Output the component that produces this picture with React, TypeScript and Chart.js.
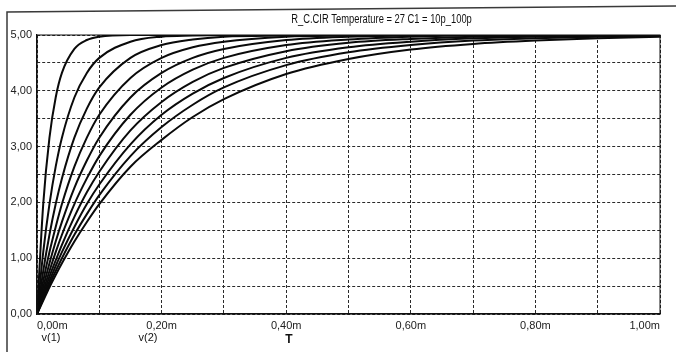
import React, { useEffect, useRef } from "react";
import { Chart, registerables } from "chart.js";

Chart.register(...registerables);

const timeMs = [0, 0.01, 0.02, 0.03, 0.04, 0.06, 0.08, 0.1, 0.15, 0.2, 0.25, 0.3, 0.4, 0.5, 0.6, 0.7, 0.8, 0.9, 1.0];

const vC10p = [0, 1.97, 3.16, 3.88, 4.32, 4.75, 4.91, 4.97, 5.0, 5.0, 5.0, 5.0, 5.0, 5.0, 5.0, 5.0, 5.0, 5.0, 5.0];
const vC20p = [0, 1.11, 1.97, 2.64, 3.16, 3.88, 4.32, 4.59, 4.88, 4.97, 4.99, 5.0, 5.0, 5.0, 5.0, 5.0, 5.0, 5.0, 5.0];
const vC30p = [0, 0.77, 1.42, 1.97, 2.43, 3.16, 3.68, 4.06, 4.59, 4.82, 4.92, 4.97, 4.99, 5.0, 5.0, 5.0, 5.0, 5.0, 5.0];
const vC40p = [0, 0.59, 1.11, 1.56, 1.97, 2.64, 3.16, 3.57, 4.23, 4.59, 4.78, 4.88, 4.97, 4.99, 5.0, 5.0, 5.0, 5.0, 5.0];
const vC50p = [0, 0.48, 0.91, 1.3, 1.65, 2.26, 2.75, 3.16, 3.88, 4.32, 4.59, 4.75, 4.91, 4.97, 4.99, 5.0, 5.0, 5.0, 5.0];
const vC60p = [0, 0.4, 0.77, 1.11, 1.42, 1.97, 2.43, 2.83, 3.57, 4.06, 4.38, 4.59, 4.82, 4.92, 4.97, 4.99, 4.99, 5.0, 5.0];
const vC70p = [0, 0.34, 0.67, 0.96, 1.24, 1.74, 2.18, 2.55, 3.29, 3.8, 4.16, 4.41, 4.71, 4.86, 4.93, 4.97, 4.98, 4.99, 5.0];
const vC80p = [0, 0.3, 0.59, 0.86, 1.11, 1.56, 1.97, 2.32, 3.04, 3.57, 3.95, 4.23, 4.59, 4.78, 4.88, 4.94, 4.97, 4.98, 4.99];
const vC90p = [0, 0.27, 0.53, 0.77, 1.0, 1.42, 1.79, 2.13, 2.83, 3.35, 3.75, 4.06, 4.46, 4.69, 4.82, 4.9, 4.94, 4.97, 4.98];
const vC100p = [0, 0.24, 0.48, 0.7, 0.91, 1.3, 1.65, 1.97, 2.64, 3.12, 3.53, 3.85, 4.3, 4.57, 4.74, 4.84, 4.9, 4.94, 4.97];

const seriesList = [vC10p, vC20p, vC30p, vC40p, vC50p, vC60p, vC70p, vC80p, vC90p, vC100p];
const seriesNames = ["10p", "20p", "30p", "40p", "50p", "60p", "70p", "80p", "90p", "100p"];

const titleText = "R_C.CIR Temperature = 27 C1 = 10p_100p";
const traceLabels = ["v(1)", "v(2)"];
const xAxisName = "T";

const FONT = "'Liberation Sans Narrow', 'Arial Narrow', 'Liberation Sans', sans-serif";

const fmt = (v: number) => v.toFixed(2).replace(".", ",");

const decorPlugin = {
  id: "decor",
  beforeDraw(chart: any) {
    const ctx = chart.ctx;
    ctx.save();
    ctx.fillStyle = "#ffffff";
    ctx.fillRect(0, 0, chart.width, chart.height);
    ctx.strokeStyle = "#3a3a3a";
    ctx.lineWidth = 1.5;
    ctx.beginPath();
    ctx.moveTo(7, chart.height);
    ctx.lineTo(7, 12);
    ctx.lineTo(chart.width, 6);
    ctx.stroke();
    ctx.restore();
  },
  afterDraw(chart: any) {
    const ctx = chart.ctx;
    const a = chart.chartArea;
    ctx.save();
    ctx.strokeStyle = "#111";
    ctx.lineWidth = 1;
    ctx.strokeRect(a.left, a.top, a.right - a.left, a.bottom - a.top);
    ctx.fillStyle = "#111";
    ctx.textAlign = "center";
    ctx.textBaseline = "middle";
    ctx.save();
    ctx.translate(a.left + (a.right - a.left) * 0.553, 20);
    ctx.scale(0.78, 1);
    ctx.font = `12px ${FONT}`;
    ctx.fillText(titleText, 0, 0);
    ctx.restore();
    ctx.font = `11px ${FONT}`;
    ctx.fillText(traceLabels[0], a.left + 14, 338);
    ctx.fillText(traceLabels[1], a.left + 111, 338);
    ctx.font = `bold 12px ${FONT}`;
    ctx.fillText(xAxisName, a.left + 252, 340);
    ctx.restore();
  },
};

export default function App() {
  const ref = useRef<HTMLCanvasElement>(null);
  useEffect(() => {
    const canvas = ref.current!;
    const datasets = seriesList.map((vals, i) => ({
      label: seriesNames[i],
      data: timeMs.map((t, j) => ({ x: t, y: vals[j] })),
      borderColor: "#0a0a0a",
      borderWidth: 2,
      pointRadius: 0,
      fill: false,
      cubicInterpolationMode: "monotone" as const,
    }));
    const chart = new Chart(canvas, {
      type: "line",
      data: { datasets },
      options: {
        animation: false,
        responsive: false,
        maintainAspectRatio: false,
        layout: { padding: { left: 0, top: 35, right: 16, bottom: 0 } },
        plugins: { legend: { display: false }, tooltip: { enabled: false }, title: { display: false } },
        scales: {
          x: {
            type: "linear",
            min: 0,
            max: 1,
            afterFit: (s: any) => {
              s.height = 38;
            },
            ticks: {
              stepSize: 0.1,
              autoSkip: false,
              maxRotation: 0,
              align: "inner",
              padding: 5,
              color: "#222",
              font: { family: FONT, size: 11 },
              callback: (v: any) => {
                const n = Math.round(Number(v) * 10);
                return n % 2 === 0 ? fmt(n / 10) + "m" : "";
              },
            },
            grid: { color: "#2a2a2a", lineWidth: 1, drawTicks: false },
            border: { display: true, color: "#111", width: 1.2, dash: [3, 2] },
          },
          y: {
            min: 0,
            max: 5,
            afterFit: (s: any) => {
              s.width = 37;
            },
            ticks: {
              stepSize: 0.5,
              autoSkip: false,
              padding: 5,
              color: "#222",
              font: { family: FONT, size: 11 },
              callback: (v: any) => {
                const n = Number(v);
                return Math.abs(n - Math.round(n)) < 1e-6 ? fmt(n) : "";
              },
            },
            grid: { color: "#2a2a2a", lineWidth: 1, drawTicks: false },
            border: { display: true, color: "#111", width: 1.2, dash: [3, 2] },
          },
        },
      },
      plugins: [decorPlugin],
    });
    return () => chart.destroy();
  }, []);
  return (
    <div style={{ position: "fixed", left: 0, top: 0, width: 676, height: 352, background: "#fff" }}>
      <canvas ref={ref} width={676} height={352} style={{ width: 676, height: 352, display: "block" }} />
    </div>
  );
}
